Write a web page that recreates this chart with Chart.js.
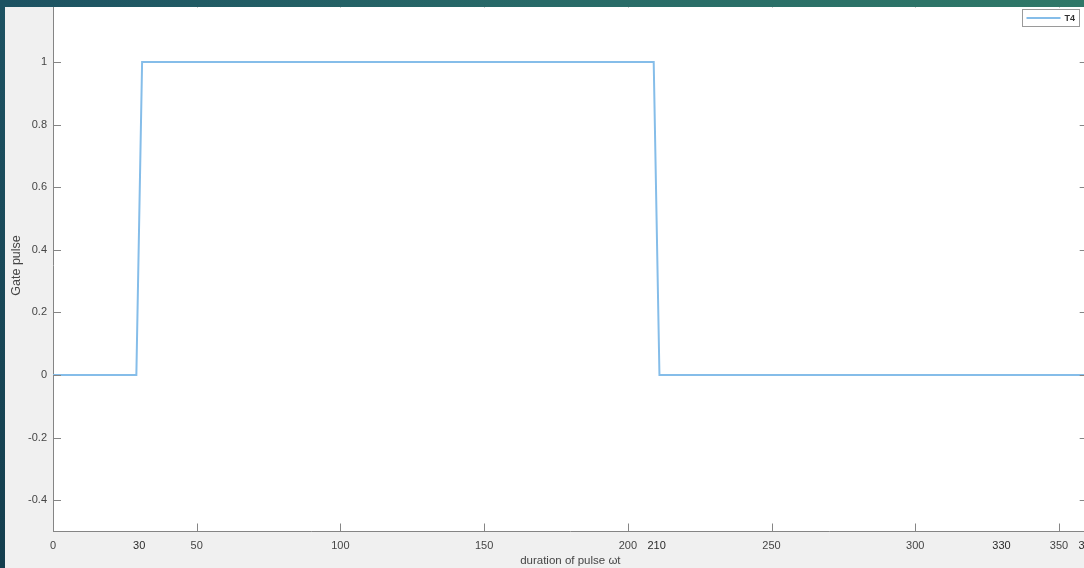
<!DOCTYPE html>
<html>
<head>
<meta charset="utf-8">
<script src="https://cdn.jsdelivr.net/npm/chart.js@4.4.1/dist/chart.umd.min.js"></script>
<style>
  html, body { margin: 0; padding: 0; overflow: hidden; width: 1084px; height: 568px; background: #f0f0f0; }
  #wrap { position: absolute; left: 0; top: -10px; }
  #edgeLeft { position: absolute; left: 0; top: 0; width: 5px; height: 568px; background: linear-gradient(#1d5262, #143e4e); }
  #edgeTop { position: absolute; left: 0; top: 0; width: 1084px; height: 7px; background: linear-gradient(90deg, #1d5262, #286a68 50%, #2f7868); }
</style>
</head>
<body>
<div id="wrap"><canvas id="gateChart" width="1100" height="578"></canvas></div>
<div id="edgeLeft"></div>
<div id="edgeTop"></div>
<script>
// gate pulse of T4 (omega t in degrees)
var pulseX = [0, 29, 30, 31, 209, 210, 211, 360];
var pulseY = [0, 0, 0.5, 1, 1, 0.5, 0, 0];

var xTicks = [0, 30, 50, 100, 150, 200, 210, 250, 300, 330, 350, 360];
var xMarked = [50, 100, 150, 200, 250, 300, 350];
var yTicks = [-0.4, -0.2, 0, 0.2, 0.4, 0.6, 0.8, 1];

var axisGray = "#858585";
var textGray = "#454545";
var lineBlue = "#85bde9";

var ctxGate = document.getElementById("gateChart").getContext("2d");

// white axes box on a grey figure
var bgPlugin = {
    id: "bg",
    beforeDraw: function (chart) {
        var c = chart.ctx, a = chart.chartArea;
        c.save();
        c.fillStyle = "#f0f0f0";
        c.fillRect(0, 0, chart.width, chart.height);
        c.fillStyle = "#ffffff";
        c.fillRect(a.left, a.top, a.right - a.left, a.bottom - a.top);
        c.restore();
    }
};

// matlab style inward ticks on all four sides
var tickPlugin = {
    id: "inTicks",
    afterDraw: function (chart) {
        var c = chart.ctx, a = chart.chartArea;
        var xs = chart.scales.x, ys = chart.scales.y;
        var len = 8;
        c.save();
        c.strokeStyle = axisGray;
        c.lineWidth = 1;
        c.beginPath();
        xMarked.forEach(function (v) {
            var px = Math.round(xs.getPixelForValue(v)) + 0.5;
            c.moveTo(px, a.bottom); c.lineTo(px, a.bottom - len);
            c.moveTo(px, a.top); c.lineTo(px, a.top + len);
        });
        yTicks.forEach(function (v) {
            var py = Math.round(ys.getPixelForValue(v)) + 0.5;
            c.moveTo(a.left, py); c.lineTo(a.left + len, py);
            c.moveTo(a.right, py); c.lineTo(a.right - len, py);
        });
        c.stroke();

        // legend box top right
        var bx = 1022.5, by = 19.5, bw = 57, bh = 17;
        c.fillStyle = "#ffffff";
        c.fillRect(bx, by, bw, bh);
        c.strokeStyle = "#9a9a9a";
        c.strokeRect(bx, by, bw, bh);
        c.strokeStyle = lineBlue;
        c.lineWidth = 2;
        c.beginPath();
        c.moveTo(bx + 4, by + 8.5); c.lineTo(bx + 38, by + 8.5);
        c.stroke();
        c.fillStyle = "#333333";
        c.font = "bold 9px 'Liberation Sans', Arial, sans-serif";
        c.textBaseline = "middle";
        c.fillText("T4", bx + 42, by + 9);
        c.restore();
    }
};

new Chart(ctxGate, {
    type: "line",
    data: {
        datasets: [{
            label: "T4",
            data: pulseX.map(function (x, i) { return { x: x, y: pulseY[i] }; }),
            borderColor: lineBlue,
            borderWidth: 2,
            pointRadius: 0,
            fill: false,
            tension: 0
        }]
    },
    options: {
        responsive: false,
        animation: false,
        devicePixelRatio: 1,
        layout: { padding: { top: 9.4, right: 12.3, left: 0, bottom: 0 } },
        plugins: { legend: { display: false }, tooltip: { enabled: false } },
        scales: {
            x: {
                type: "linear",
                min: 0,
                max: 360,
                grid: { display: false, drawTicks: false },
                border: { display: true, color: axisGray, width: 1 },
                afterBuildTicks: function (s) { s.ticks = xTicks.map(function (v) { return { value: v }; }); },
                afterFit: function (s) { s.height = 36.5; s.paddingLeft = 0; s.paddingRight = 0; },
                ticks: {
                    autoSkip: false,
                    maxRotation: 0,
                    padding: 8,
                    color: function (c) { return xMarked.indexOf(c.tick.value) < 0 && c.tick.value !== 0 ? "#2a2a2a" : textGray; },
                    font: { family: "'Liberation Sans', Arial, sans-serif", size: 11 },
                    callback: function (v) { return String(v); }
                },
                title: {
                    display: true,
                    text: "duration of pulse ωt",
                    color: textGray,
                    padding: 0,
                    font: { family: "'Liberation Sans', Arial, sans-serif", size: 11.5 }
                }
            },
            y: {
                min: -0.5,
                max: 1.2,
                grid: { display: false, drawTicks: false },
                border: { display: true, color: axisGray, width: 1 },
                afterBuildTicks: function (s) { s.ticks = yTicks.map(function (v) { return { value: v }; }); },
                afterFit: function (s) { s.width = 53; s.paddingTop = 0; s.paddingBottom = 0; },
                ticks: {
                    padding: 6,
                    color: textGray,
                    font: { family: "'Liberation Sans', Arial, sans-serif", size: 11 },
                    callback: function (v) { return String(+v.toFixed(1)); }
                },
                title: {
                    display: true,
                    text: "Gate pulse",
                    color: textGray,
                    padding: { top: 9.5, bottom: 0 },
                    font: { family: "'Liberation Sans', Arial, sans-serif", size: 12.5 }
                }
            }
        }
    },
    plugins: [bgPlugin, tickPlugin]
});
</script>
</body>
</html>
